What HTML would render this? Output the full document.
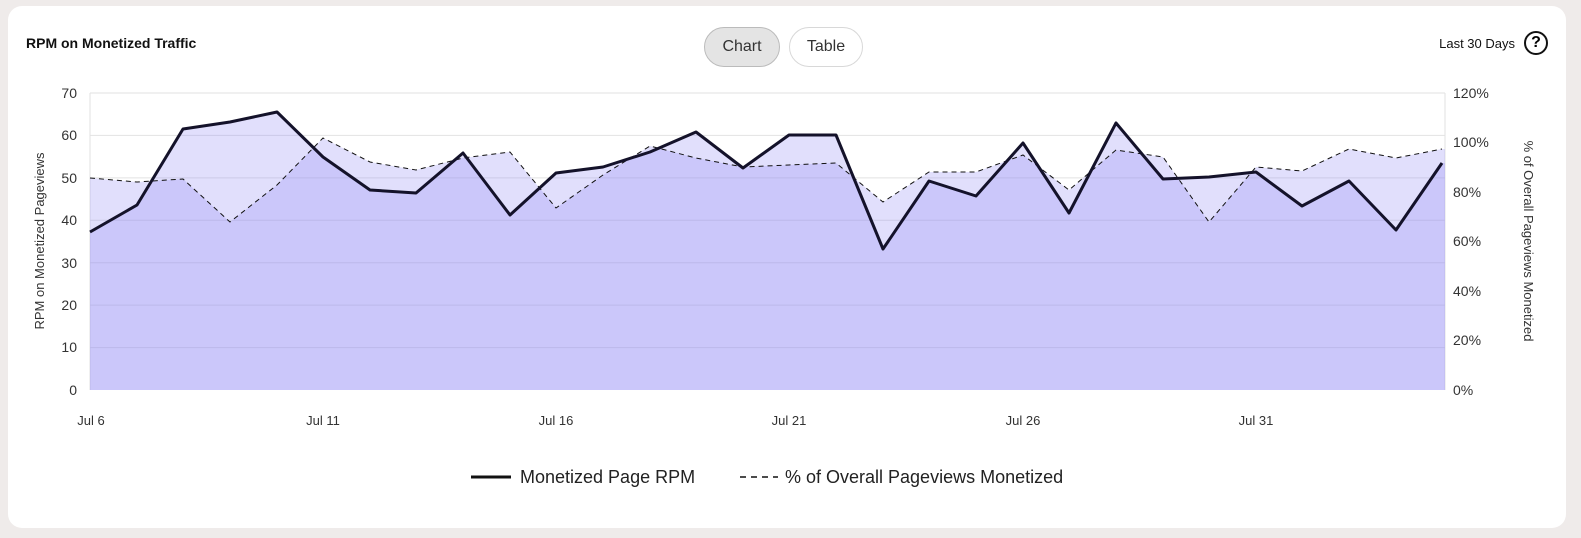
<!DOCTYPE html>
<html><head><meta charset="utf-8"><style>
html,body{margin:0;padding:0;background:#efebea;width:1581px;height:538px;overflow:hidden;font-family:"Liberation Sans",sans-serif}
.card{position:absolute;left:8px;top:6px;width:1558px;height:522px;background:#fff;border-radius:14px}
.t{position:absolute;left:26px;top:35px;font-size:14px;font-weight:bold;color:#111}
.btn{position:absolute;top:27px;height:38px;border-radius:20px;border:1px solid #d8d8d8;font-size:16px;line-height:38px;text-align:center;color:#333}
.ld{position:absolute;right:66px;top:36px;font-size:13px;color:#111}
.q{position:absolute;left:1524px;top:31px;width:20px;height:20px;border:2px solid #111;border-radius:50%;text-align:center;font-size:16px;font-weight:bold;line-height:20px}
</style></head><body>
<div class="card"></div>
<div class="t">RPM on Monetized Traffic</div>
<div class="btn" style="left:704px;width:74px;background:#e4e4e4;border-color:#bbb">Chart</div>
<div class="btn" style="left:789px;width:72px;background:#fff">Table</div>
<div class="ld">Last 30 Days</div>
<div class="q">?</div>
<svg width="1581" height="538" style="position:absolute;left:0;top:0" font-family="Liberation Sans, sans-serif">
<g stroke="#e2e2e2" stroke-width="1">
<line x1="90" y1="93" x2="1445" y2="93"/><line x1="90" y1="135.4" x2="1445" y2="135.4"/><line x1="90" y1="177.9" x2="1445" y2="177.9"/><line x1="90" y1="220.3" x2="1445" y2="220.3"/><line x1="90" y1="262.7" x2="1445" y2="262.7"/><line x1="90" y1="305.1" x2="1445" y2="305.1"/><line x1="90" y1="347.6" x2="1445" y2="347.6"/>
<line x1="90" y1="93" x2="90" y2="390"/><line x1="1445" y1="93" x2="1445" y2="390"/>
</g>
<polygon fill="#8f87f5" fill-opacity="0.27" points="90,390 90,232 137,205 183,129 230,122 277,112 323,157 370,190 416,193 463,153 510,215 556,173 603,167 650,152 696,132 743,168 789,135 836,135 883,249 929,181 976,196 1023,143 1069,213 1116,123 1163,179 1209,177 1256,172 1302,206 1349,181 1396,230 1442,163 1445,163 1445,390"/>
<polygon fill="#8f87f5" fill-opacity="0.27" points="90,390 90,178 137,182 183,179 230,222 277,185 323,138 370,162 416,170 463,158 510,152 556,208 603,175 650,146 696,158 743,167 789,165 836,163 883,202 929,172 976,172 1023,155 1069,190 1116,150 1163,157 1209,222 1256,167 1302,171 1349,149 1396,158 1442,149 1445,149 1445,390"/>
<polyline fill="none" stroke="#111" stroke-width="1" stroke-dasharray="5,4" points="90,178 137,182 183,179 230,222 277,185 323,138 370,162 416,170 463,158 510,152 556,208 603,175 650,146 696,158 743,167 789,165 836,163 883,202 929,172 976,172 1023,155 1069,190 1116,150 1163,157 1209,222 1256,167 1302,171 1349,149 1396,158 1442,149"/>
<polyline fill="none" stroke="#14122a" stroke-width="3" stroke-linejoin="round" points="90,232 137,205 183,129 230,122 277,112 323,157 370,190 416,193 463,153 510,215 556,173 603,167 650,152 696,132 743,168 789,135 836,135 883,249 929,181 976,196 1023,143 1069,213 1116,123 1163,179 1209,177 1256,172 1302,206 1349,181 1396,230 1442,163"/>
<g font-size="14" fill="#333" text-anchor="end">
<text x="77" y="98">70</text><text x="77" y="140">60</text><text x="77" y="183">50</text><text x="77" y="225">40</text><text x="77" y="268">30</text><text x="77" y="310">20</text><text x="77" y="352">10</text><text x="77" y="395">0</text>
</g>
<g font-size="14" fill="#333">
<text x="1453" y="98">120%</text><text x="1453" y="147">100%</text><text x="1453" y="197">80%</text><text x="1453" y="246">60%</text><text x="1453" y="296">40%</text><text x="1453" y="345">20%</text><text x="1453" y="395">0%</text>
</g>
<g font-size="13" fill="#333" text-anchor="middle">
<text x="91" y="425">Jul 6</text><text x="323" y="425">Jul 11</text><text x="556" y="425">Jul 16</text><text x="789" y="425">Jul 21</text><text x="1023" y="425">Jul 26</text><text x="1256" y="425">Jul 31</text>
</g>
<text transform="translate(44,241) rotate(-90)" font-size="13" fill="#333" text-anchor="middle">RPM on Monetized Pageviews</text>
<text transform="translate(1524,241) rotate(90)" font-size="13" fill="#333" text-anchor="middle">% of Overall Pageviews Monetized</text>
<line x1="471" y1="477" x2="511" y2="477" stroke="#111" stroke-width="3"/>
<text x="520" y="483" font-size="18" fill="#222">Monetized Page RPM</text>
<line x1="740" y1="477" x2="778" y2="477" stroke="#111" stroke-width="1.5" stroke-dasharray="6,5"/>
<text x="785" y="483" font-size="18" fill="#222">% of Overall Pageviews Monetized</text>
</svg>
</body></html>
